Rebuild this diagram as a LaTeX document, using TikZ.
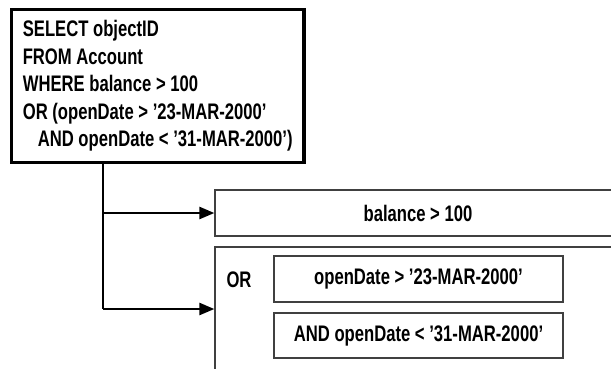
\documentclass[tikz,border=0pt]{standalone}
\usepackage{fontspec}
\setmainfont{Liberation Sans}[UprightFont = * Bold, FakeStretch = 0.74]
\usetikzlibrary{positioning}
\usetikzlibrary{arrows.meta}

\begin{document}
\begin{tikzpicture}[x = 1pt, y = -1pt,
		box/.style = {draw = black!75, line width = 1.3pt, inner sep = 0pt, font = \fontsize{22.5}{27.5}\selectfont},
		link/.style = {black, line width = 2.4pt, -{Triangle[length = 15pt, width = 12pt]}}]
					\clip (0, 0) rectangle (611, 369);
					\node (query) at (157.75, 86) [box, draw = black, line width = 3.5pt, minimum width = 292.5pt, minimum height = 153pt, align = left] {SELECT objectID\\FROM Account\\WHERE balance > 100\\OR (openDate > '23-MAR-2000'\\\hspace{15pt}AND openDate < '31-MAR-2000')};
					\node (balance) at (418, 213) [box, minimum width = 406pt, minimum height = 46pt] {balance > 100};
					\node (orbox) at (427.5, 323.5) [box, minimum width = 425pt, minimum height = 153pt] {};
					\node (or) at (239, 279.5) [font = \fontsize{22.5}{27.5}\selectfont] {OR};
					\node (after) at (418.5, 279) [box, minimum width = 289pt, minimum height = 46pt] {openDate > '23-MAR-2000'};
					\node (before) at (418.5, 335.5) [box, minimum width = 289pt, minimum height = 45pt] {AND openDate < '31-MAR-2000'};
					\coordinate (split) at (103, 213);
					\coordinate (low) at (103, 309);
					\draw [black, line width = 2.4pt] (query.south -| split) -- (low);
					\draw [link] (split) -- (balance.west);
					\draw [link] (low) -- (low -| orbox.west);
				\end{tikzpicture}
\end{document}
